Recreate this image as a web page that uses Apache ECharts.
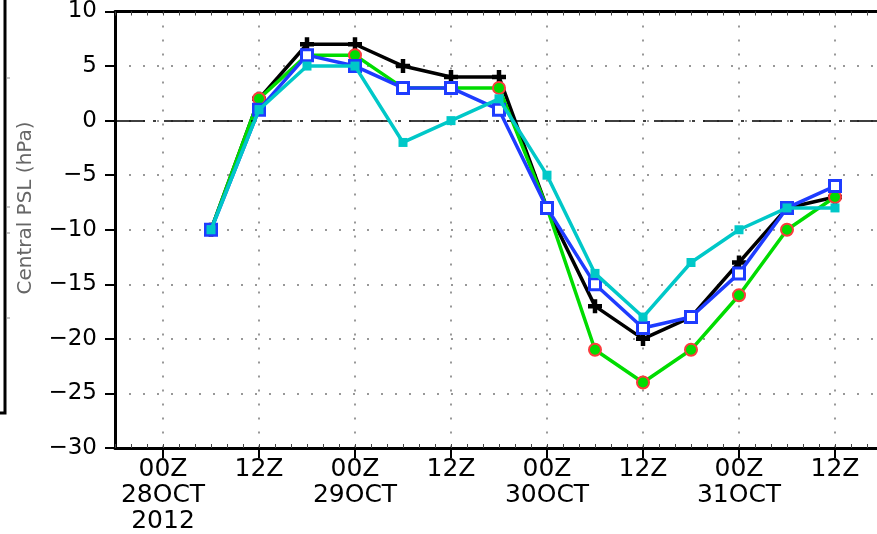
<!DOCTYPE html>
<html>
<head>
<meta charset="utf-8">
<script src="https://cdn.jsdelivr.net/npm/echarts@6/dist/echarts.min.js"></script>
<style>
html,body{margin:0;padding:0;background:#fff;overflow:hidden;}
#chart{width:885px;height:534px;}
</style>
</head>
<body>
<div id="chart"></div>
<script>
// 6-hourly category positions along the x axis (18Z 27OCT .. 18Z 31OCT)
var categories = ['18Z27OCT','00Z28OCT','06Z28OCT','12Z28OCT','18Z28OCT','00Z29OCT','06Z29OCT','12Z29OCT','18Z29OCT',
                  '00Z30OCT','06Z30OCT','12Z30OCT','18Z30OCT','00Z31OCT','06Z31OCT','12Z31OCT','18Z31OCT'];
// tick labels shown at 00Z / 12Z
var tickLabels = ['00Z\n28OCT\n2012','12Z','00Z\n29OCT','12Z','00Z\n30OCT','12Z','00Z\n31OCT','12Z'];
// times of the data points (06Z 28OCT .. 12Z 31OCT)
var times = categories.slice(2, 16);
var yTicks = [-30,-25,-20,-15,-10,-5,0,5,10];

var blackVals = [-10, 2, 7, 7, 5, 4, 4, -8, -17, -20, -18, -13, -8, -7];
var greenVals = [-10, 2, 6, 6, 3, 3, 3, -8, -21, -24, -21, -16, -10, -7];
var blueVals  = [-10, 1, 6, 5, 3, 3, 1, -8, -15, -19, -18, -14, -8, -6];
var cyanVals  = [-10, 1, 5, 5, -2, 0, 2, -5, -14, -18, -13, -10, -8, -8];

function pairs(vals){ return times.map(function(t,i){ return [t, vals[i]]; }); }
function isMajor(i){ return i % 2 === 1; }

var FONT = 'DejaVu Sans';
var chart = echarts.init(document.getElementById('chart'), null, {renderer:'canvas'});
var plus = 'path://M3.4,0H6.6V3.4H10V6.6H6.6V10H3.4V6.6H0V3.4H3.4Z';

chart.setOption({
  animation: false,
  backgroundColor: '#fff',
  grid: {left: 115, top: 10, bottom: 86, right: 2, containLabel: false},
  xAxis: [{
    type: 'category',
    data: categories,
    boundaryGap: false,
    position: 'bottom',
    axisLine: {show: true, onZero: false, lineStyle: {color: '#000', width: 3}},
    axisTick: {show: true, inside: false, length: 10, interval: function(i){ return isMajor(i); },
               lineStyle: {color: '#000', width: 2}},
    axisLabel: {
      show: true, interval: function(i){ return isMajor(i); },
      formatter: function(v, i){ return isMajor(i) ? tickLabels[(i-1)/2] : ''; },
      fontFamily: FONT, fontSize: 25, lineHeight: 26, color: '#000', margin: 8
    },
    splitLine: {show: true, interval: function(i){ return isMajor(i) && i < 16; },
                lineStyle: {color: '#777', width: 1.5, type: [2, 12]}}
  }, {
    type: 'value', min: -6, max: 90, interval: 2, position: 'bottom',
    axisLine: {show: false, onZero: false},
    axisTick: {show: true, inside: true, length: 4, lineStyle: {color: '#444', width: 1}},
    axisLabel: {show: false}, splitLine: {show: false}
  }, {
    type: 'value', min: -6, max: 90, interval: 2, position: 'top',
    axisLine: {show: true, onZero: false, lineStyle: {color: '#000', width: 3}},
    axisTick: {show: true, inside: true, length: 4, lineStyle: {color: '#444', width: 1}},
    axisLabel: {show: false}, splitLine: {show: false}
  }],
  yAxis: {
    type: 'value', min: yTicks[0], max: yTicks[yTicks.length-1], interval: 5, position: 'left',
    axisLine: {show: true, onZero: false, lineStyle: {color: '#000', width: 3}},
    axisTick: {show: true, inside: false, length: 10, lineStyle: {color: '#000', width: 2}},
    axisLabel: {fontFamily: FONT, fontSize: 23, color: '#000', margin: 18,
                formatter: function(v){ return v < 0 ? '\u2212' + Math.abs(v) : String(v); }},
    splitLine: {show: true, lineStyle: {color: '#777', width: 1.5, type: [2, 12]}}
  },
  graphic: [
    {type: 'text', x: 26, y: 208, rotation: Math.PI/2,
     style: {text: 'Central PSL (hPa)', font: '20px "DejaVu Sans"', fill: '#666',
             align: 'center', verticalAlign: 'middle'}},
    {type: 'polyline', shape: {points: [[5,0],[5,413],[0,413]]}, style: {stroke: '#000', lineWidth: 3, fill: null}},
    {type: 'line', shape: {x1: 6, y1: 78, x2: 10, y2: 78}, style: {stroke: '#888', lineWidth: 1}},
    {type: 'line', shape: {x1: 6, y1: 207, x2: 10, y2: 207}, style: {stroke: '#888', lineWidth: 1}},
    {type: 'line', shape: {x1: 6, y1: 233, x2: 10, y2: 233}, style: {stroke: '#888', lineWidth: 1}},
    {type: 'line', shape: {x1: 6, y1: 318, x2: 10, y2: 318}, style: {stroke: '#888', lineWidth: 1}}
  ],
  series: [{
    name: 'black', type: 'line', data: pairs(blackVals),
    symbol: plus, symbolSize: 14, showAllSymbol: true,
    lineStyle: {color: '#000', width: 3.5}, itemStyle: {color: '#000'},
    markLine: {silent: true, symbol: 'none', label: {show: false},
               data: [{yAxis: 0}],
               lineStyle: {color: '#000', width: 1.5, type: [30, 8, 3, 8]}},
    z: 2
  }, {
    name: 'green', type: 'line', data: pairs(greenVals),
    symbol: 'circle', symbolSize: 12, showAllSymbol: true,
    lineStyle: {color: '#00dc00', width: 3.5},
    itemStyle: {color: '#00dc00', borderColor: '#fa3c3c', borderWidth: 2},
    z: 3
  }, {
    name: 'blue', type: 'line', data: pairs(blueVals),
    symbol: 'rect', symbolSize: 11, showAllSymbol: true,
    lineStyle: {color: '#1e3cff', width: 3.5},
    itemStyle: {color: '#fff', borderColor: '#1e3cff', borderWidth: 3},
    z: 4
  }, {
    name: 'cyan', type: 'line', data: pairs(cyanVals),
    symbol: 'rect', symbolSize: 9, showAllSymbol: true,
    lineStyle: {color: '#00c8c8', width: 3.5},
    itemStyle: {color: '#00c8c8'},
    z: 5
  }]
});
</script>
</body>
</html>
